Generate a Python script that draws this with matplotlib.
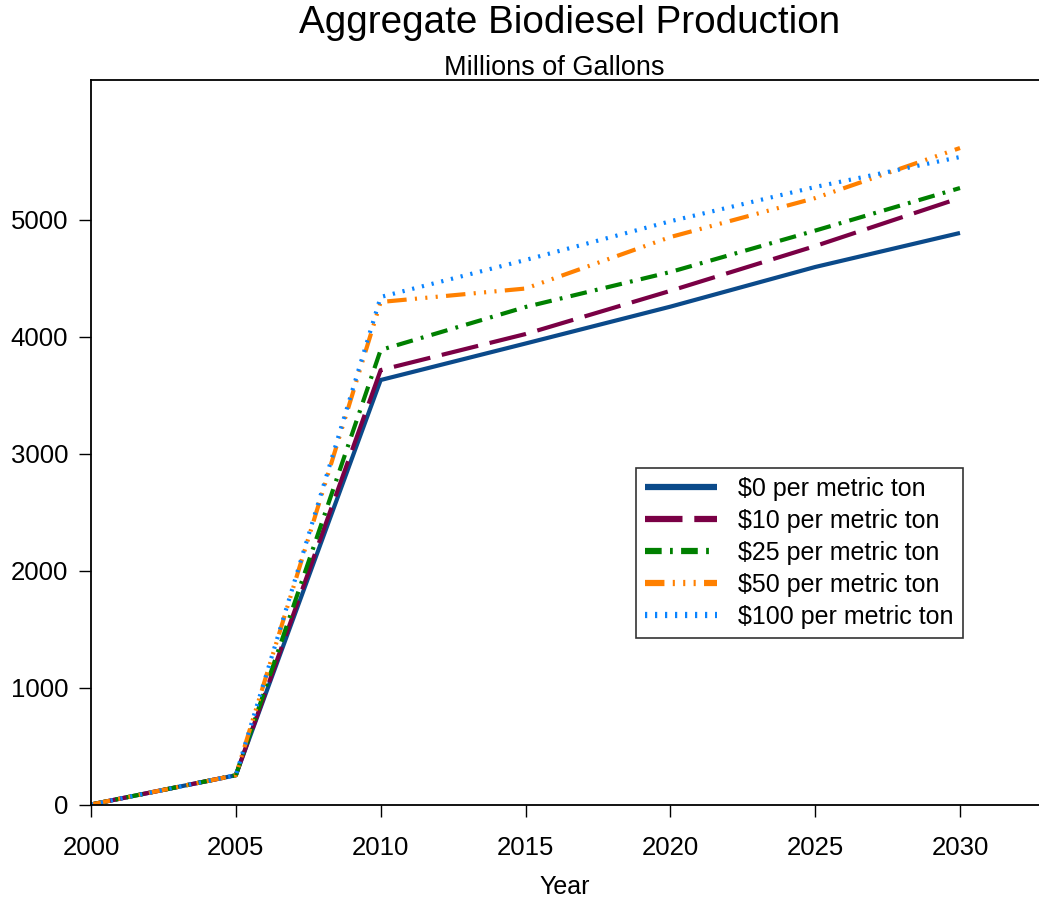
import matplotlib
matplotlib.use("Agg")
import matplotlib.pyplot as plt

years = [2000, 2005, 2010, 2015, 2020, 2025, 2030]
labels = ["$0 per metric ton", "$10 per metric ton", "$25 per metric ton",
          "$50 per metric ton", "$100 per metric ton"]
s0 = [0, 250, 3628, 3940, 4255, 4594, 4885]
s10 = [0, 250, 3713, 4021, 4390, 4773, 5184]
s25 = [0, 250, 3885, 4252, 4551, 4905, 5269]
s50 = [0, 250, 4295, 4410, 4850, 5183, 5611]
s100 = [0, 250, 4338, 4654, 4985, 5278, 5534]
series = [s0, s10, s25, s50, s100]
colors = ["#0B4A8A", "#7A0045", "#008000", "#FF8000", "#0A84FF"]
dashes = [None, (27, 8.5), (12, 6, 2, 6), (14, 6, 1.5, 6, 1.5, 6, 1.5, 6), (1.6, 5.6)]

plt.rcParams['font.family'] = ['Liberation Sans', 'DejaVu Sans']
plt.rcParams['lines.scale_dashes'] = False

fig = plt.figure(figsize=(10.39, 8.98), dpi=100)
ax = fig.add_axes([91/1039, 1-804.5/898, 1-91/1039, (804.5-80)/898])

for ys, c, d, lab in zip(series, colors, dashes, labels):
    if d is None:
        ax.plot(years, ys, color=c, lw=3, label=lab, solid_capstyle='butt')
    else:
        ax.plot(years, ys, color=c, lw=3, label=lab, dashes=d, dash_capstyle='butt')

ax.set_xlim(2000, 2000 + (1039-91)/(869/30))
ax.set_ylim(0, 724.5/0.117)
ax.set_xticks(years)
ax.set_yticks([0, 1000, 2000, 3000, 4000, 5000])
ax.tick_params(direction='out', length=8.5, width=1, labelsize=18.5, colors='black')
ax.tick_params(axis='x', pad=14)
ax.tick_params(axis='y', pad=8)
ax.spines['right'].set_visible(False)
for sp in ['left', 'bottom', 'top']:
    ax.spines[sp].set_linewidth(1.3)
ax.set_xlabel("Year", fontsize=18, labelpad=11)

fig.text(0.548, 1-23/898, "Aggregate Biodiesel Production", ha='center', va='center', fontsize=27.8)
fig.text(0.533, 1-68/898, "Millions of Gallons", ha='center', va='center', fontsize=19.5)

leg = ax.legend(loc='upper left', bbox_to_anchor=((636-91)/948, (804.5-468)/724.5),
                fontsize=18, frameon=True, fancybox=False, edgecolor='black',
                handlelength=2.9, handletextpad=0.85, labelspacing=0.32,
                borderpad=0.35, borderaxespad=0)
leg.get_frame().set_linewidth(1.2)
for h in leg.get_lines():
    h.set_linewidth(4.5)

fig.savefig("out.png", dpi=100)
